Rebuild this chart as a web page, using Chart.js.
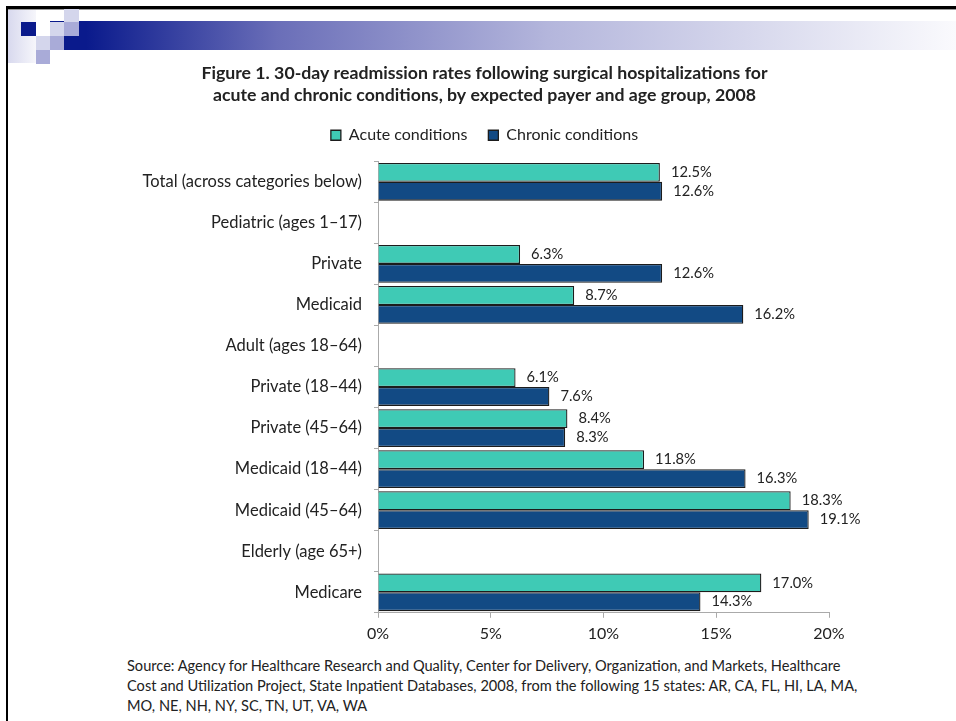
<!DOCTYPE html>
<html>
<head>
<meta charset="utf-8">
<script src="https://cdn.jsdelivr.net/npm/chart.js@4.4.1/dist/chart.umd.min.js"></script>
<style>
  body { margin: 0; background: #fff; }
  #slide { position: relative; width: 956px; height: 721px; overflow: hidden; background: #fff; font-family: Lato, "Noto Sans", sans-serif; }
  .deco { position: absolute; }
  #chartBox { position: absolute; left: 0; top: 57px; width: 956px; height: 596px; }
  #source { position: absolute; left: 127px; top: 656px; font-size: 14.6px; line-height: 20px; color: #222; }
</style>
</head>
<body>
<div id="slide">
  <!-- slide frame + header decoration -->
  <div class="deco" style="left:6px;top:6px;width:950px;height:3px;background:#000"></div>
  <div class="deco" style="left:6px;top:9px;width:950px;height:1px;background:#999"></div>
  <div class="deco" style="left:6px;top:6px;width:2px;height:715px;background:#000"></div>
  <div class="deco" style="left:50px;top:21px;width:906px;height:29px;background:linear-gradient(to right,#0a1a8c 0%,#0a1a8c 4%,#6a6eb8 25%,#b4b6dc 55%,#fafafd 100%)"></div>
  <div class="deco" style="left:8px;top:10px;width:28px;height:53px;background:linear-gradient(to right,#d8d9ee,#f6f6fb)"></div>
  <div class="deco" style="left:21px;top:22px;width:15px;height:14px;background:#0a1a8c"></div>
  <div class="deco" style="left:36px;top:36px;width:14px;height:14px;background:#d4d6ec"></div>
  <div class="deco" style="left:36px;top:50px;width:14px;height:14px;background:#a9abd8"></div>
  <div class="deco" style="left:50px;top:22px;width:14px;height:14px;background:#d4d6ec"></div>
  <div class="deco" style="left:50px;top:36px;width:14px;height:14px;background:#a9abd8"></div>
  <div class="deco" style="left:64px;top:9px;width:15px;height:13px;background:#d4d6ec"></div>
  <div class="deco" style="left:64px;top:22px;width:15px;height:14px;background:#a9abd8"></div>
  <div class="deco" style="left:64px;top:36px;width:15px;height:14px;background:#0a1a8c"></div>

  <div id="chartBox"><canvas id="chart"></canvas></div>
  <div id="source">Source: Agency for Healthcare Research and Quality, Center for Delivery, Organization, and Markets, Healthcare<br>Cost and Utilization Project, State Inpatient Databases, 2008, from the following 15 states: AR, CA, FL, HI, LA, MA,<br>MO, NE, NH, NY, SC, TN, UT, VA, WA</div>
</div>

<script>
// ===== DATOS =====
const categories = [
  'Total (across categories below)',
  'Pediatric (ages 1–17)',
  'Private',
  'Medicaid',
  'Adult (ages 18–64)',
  'Private (18–44)',
  'Private (45–64)',
  'Medicaid (18–44)',
  'Medicaid (45–64)',
  'Elderly (age 65+)',
  'Medicare'
];
const acuteRates   = [12.5, null, 6.3, 8.7, null, 6.1, 8.4, 11.8, 18.3, null, 17.0];
const chronicRates = [12.6, null, 12.6, 16.2, null, 7.6, 8.3, 16.3, 19.1, null, 14.3];
const xTicks = [0, 5, 10, 15, 20];

const titleLines = [
  'Figure 1. 30-day readmission rates following surgical hospitalizations for',
  'acute and chronic conditions, by expected payer and age group, 2008'
];

const textColor = '#222';
const fontFamily = 'Lato, "Noto Sans", sans-serif';

// etiquetas de valor al final de cada barra
const valueLabels = {
  id: 'valueLabels',
  afterDatasetsDraw(chart) {
    const ctx = chart.ctx;
    ctx.save();
    ctx.font = '14.7px ' + fontFamily;
    ctx.fillStyle = textColor;
    ctx.textAlign = 'left';
    ctx.textBaseline = 'middle';
    chart.data.datasets.forEach((ds, i) => {
      chart.getDatasetMeta(i).data.forEach((bar, j) => {
        const v = ds.data[j];
        if (v == null) return;
        ctx.fillText(v.toFixed(1) + '%', bar.x + 11, bar.y);
      });
    });
    ctx.restore();
  }
};

// un poco de aire entre la leyenda y el área del gráfico
const legendGap = {
  id: 'legendGap',
  beforeInit(chart) {
    const fit = chart.legend.fit;
    chart.legend.fit = function () {
      fit.call(this);
      this.height += 8;
    };
  }
};

new Chart(document.getElementById('chart'), {
  type: 'bar',
  data: {
    labels: categories,
    datasets: [
      {
        label: 'Acute conditions',
        data: acuteRates,
        backgroundColor: '#3fcab5',
        borderColor: '#1c1c1c',
        borderWidth: 1.3
      },
      {
        label: 'Chronic conditions',
        data: chronicRates,
        backgroundColor: '#124a84',
        borderColor: '#1c1c1c',
        borderWidth: 1.3
      }
    ]
  },
  options: {
    indexAxis: 'y',
    responsive: true,
    maintainAspectRatio: false,
    animation: false,
    categoryPercentage: 0.92,
    barPercentage: 1.0,
    // left padding pushes title/legend centre to the right like the slide
    layout: { padding: { top: 5, right: 127, bottom: 4, left: 140 } },
    plugins: {
      title: {
        display: true,
        text: titleLines,
        color: textColor,
        font: { family: fontFamily, size: 17.7, weight: 'bold', lineHeight: 1.25 },
        padding: { top: 0, bottom: 0 }
      },
      legend: {
        display: true,
        labels: {
          color: textColor,
          font: { family: fontFamily, size: 16 },
          boxWidth: 10,
          boxHeight: 10,
          padding: 21
        }
      },
      tooltip: { enabled: false }
    },
    scales: {
      x: {
        type: 'linear',
        min: 0,
        max: 20,
        afterBuildTicks: (scale) => { scale.ticks = xTicks.map(v => ({ value: v })); },
        ticks: {
          color: textColor,
          font: { family: fontFamily, size: 16 },
          padding: 6,
          callback: (v) => v + '%'
        },
        grid: { drawOnChartArea: false, tickLength: 5, color: '#aaa' },
        border: { color: '#aaa' }
      },
      y: {
        afterFit: (scale) => { scale.width = 238; },
        ticks: {
          color: textColor,
          font: { family: fontFamily, size: 16.5 },
          padding: 12
        },
        grid: { drawOnChartArea: false, tickLength: 4, color: '#aaa' },
        border: { color: '#aaa' }
      }
    }
  },
  plugins: [valueLabels, legendGap]
});
</script>
</body>
</html>
